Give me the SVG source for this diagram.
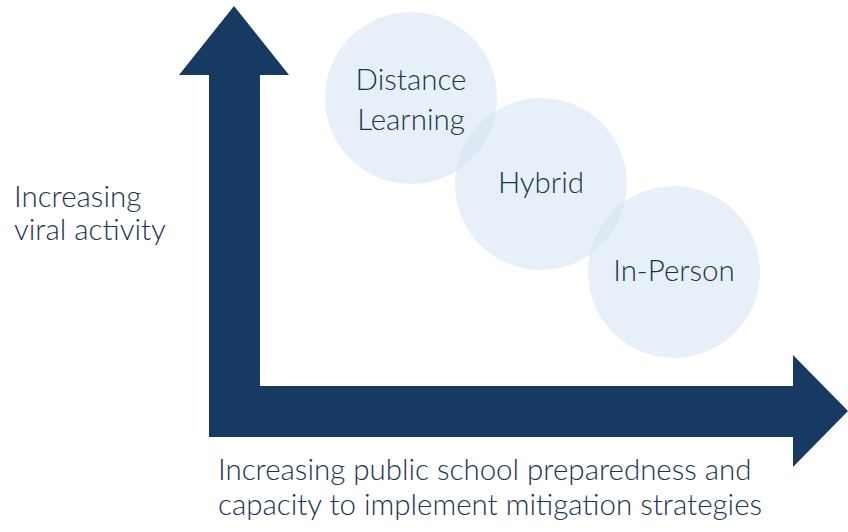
<svg xmlns="http://www.w3.org/2000/svg" width="848" height="532" viewBox="0 0 848 532">
<style>
.lbl{font-family:Lato,"Open Sans","Liberation Sans",sans-serif;fill:#1b3352;font-size:29.5px;font-weight:300}
.c{fill:#cfe2f1;fill-opacity:0.5}
</style>
<rect width="848" height="532" fill="#ffffff"/>
<g id="axes">
<path d="M234,6 L289,75 L260,75 L260,386 L793,386 L793,355 L848,411 L793,467 L793,437 L209,437 L209,75 L179,75 Z" fill="#173a63"/>
</g>
<g id="distance">
<circle class="c" cx="411" cy="98" r="86"/>
<text class="lbl" x="411" y="90" text-anchor="middle">Distance</text>
<text class="lbl" x="411" y="130" text-anchor="middle">Learning</text>
</g>
<g id="hybrid">
<circle class="c" cx="541" cy="184" r="86"/>
<text class="lbl" x="541" y="193" text-anchor="middle">Hybrid</text>
</g>
<g id="inperson">
<circle class="c" cx="674" cy="272" r="86"/>
<text class="lbl" x="674" y="281" text-anchor="middle">In-Person</text>
</g>
<g id="ylabel">
<text class="lbl" x="14" y="207">Increasing</text>
<text class="lbl" x="14" y="240">viral activity</text>
</g>
<g id="xlabel">
<text class="lbl" x="218" y="480">Increasing public school preparedness and</text>
<text class="lbl" x="218" y="515">capacity to implement mitigation strategies</text>
</g>
</svg>
